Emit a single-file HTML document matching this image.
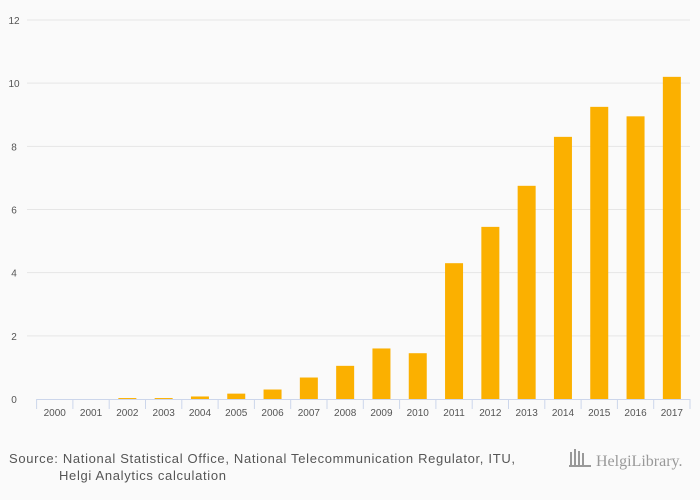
<!DOCTYPE html>
<html><head><meta charset="utf-8"><style>
body{margin:0;background:#fafafa;font-family:"Liberation Sans",sans-serif;}
</style></head><body>
<svg id="chart" width="700" height="500" xmlns="http://www.w3.org/2000/svg" style="display:block;background:#fafafa">
<g id="grid"></g>
<g id="bars"></g>
<g id="axis"></g>
<g id="ylabels"></g>
<text x="9" y="463" font-size="13" fill="#555" textLength="506" lengthAdjust="spacing">Source: National Statistical Office, National Telecommunication Regulator, ITU,</text>
<text x="59" y="480" font-size="13" fill="#555" textLength="167" lengthAdjust="spacing">Helgi Analytics calculation</text>
<g>
<rect x="570" y="452" width="2" height="14" fill="#999"/><rect x="574" y="449" width="2" height="17" fill="#999"/><rect x="578" y="451" width="2" height="15" fill="#999"/><rect x="582" y="453" width="2" height="13" fill="#999"/><rect x="569" y="465" width="22" height="2" fill="#999"/>
<text x="596" y="466" font-size="16" fill="#999" font-family="Liberation Serif,serif">HelgiLibrary.</text>
</g>
</svg>
<script>
const categories=["2000","2001","2002","2003","2004","2005","2006","2007","2008","2009","2010","2011","2012","2013","2014","2015","2016","2017"];
const values=[0,0,0.03,0.03,0.08,0.17,0.3,0.68,1.05,1.6,1.45,4.3,5.45,6.75,8.3,9.25,8.95,10.2];
const yTicks=[0,2,4,6,8,10,12];
const NS="http://www.w3.org/2000/svg";
const x0=36.6,x1=690,y0=399,yTop=20,yMax=12;
const step=(x1-x0)/categories.length;
const ys=v=>y0-(v/yMax)*(y0-yTop);
const xs=i=>x0+step*i+step/2;
function mk(t,a){const e=document.createElementNS(NS,t);for(const k in a)e.setAttribute(k,a[k]);return e;}
const grid=document.getElementById('grid'),yl=document.getElementById('ylabels');
yTicks.forEach(t=>{
 if(t>0){const l=mk('line',{x1:27,x2:x1,y1:ys(t),y2:ys(t),stroke:'#e6e6e6','stroke-width':1});
 
 grid.appendChild(l);}
 const tx=mk('text',{x:14,y:ys(t)+4,'font-size':10,fill:'#555','text-anchor':'middle'});
 tx.textContent=t;
 
 yl.appendChild(tx);
});
const bars=document.getElementById('bars');
values.forEach((v,i)=>{
 const h=y0-ys(v);
 const r=mk('rect',{x:xs(i)-9,y:ys(v),width:18,height:Math.max(h,0),fill:'#fbb000'});
 
 bars.appendChild(r);
});
const ax=document.getElementById('axis');
const al=mk('line',{x1:x0,x2:x1,y1:y0+0.5,y2:y0+0.5,stroke:'#ccd6eb'});

ax.appendChild(al);
for(let i=0;i<=categories.length;i++){
 const t=mk('line',{x1:x0+step*i,x2:x0+step*i,y1:y0,y2:y0+10,stroke:'#ccd6eb'});
 
 ax.appendChild(t);
}
categories.forEach((c,i)=>{
 const t=mk('text',{x:xs(i),y:y0+17,'font-size':10,fill:'#555','text-anchor':'middle'});
 t.textContent=c;
 
 ax.appendChild(t);
});
</script>
</body></html>
